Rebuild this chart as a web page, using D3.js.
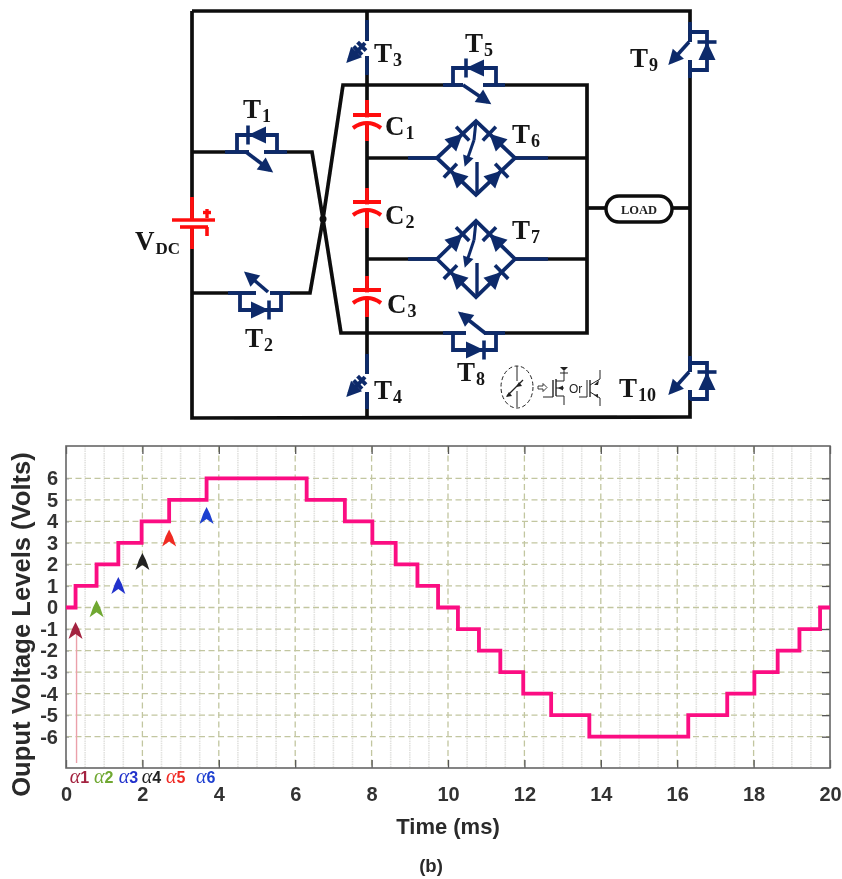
<!DOCTYPE html>
<html><head><meta charset="utf-8">
<style>html,body{margin:0;padding:0;background:#fff}svg{display:block}</style>
<script src="https://cdn.jsdelivr.net/npm/d3@7/dist/d3.min.js"></script></head>
<body><svg id="c" width="842" height="879"></svg>
<script>
// ---- chart data ----
const stepTimes  = [0,0.25,0.8,1.37,1.98,2.7,3.68,6.3,7.3,8.02,8.63,9.2,9.74,10.26,10.81,11.37,11.97,12.7,13.7,16.29,17.31,18.02,18.63,19.2,19.74,20];
const stepLevels = [0,1,2,3,4,5,6,5,4,3,2,1,0,-1,-2,-3,-4,-5,-6,-5,-4,-3,-2,-1,0,0];
const xTicks = [0,2,4,6,8,10,12,14,16,18,20];
const yTicks = [6,5,4,3,2,1,0,-1,-2,-3,-4,-5,-6];
const minorTimes = d3.range(0.5,20,0.5).filter(t=>t%2!==0);
const alphaNames = ["1","2","3","4","5","6"];
const alphaTimes = [0.25,0.8,1.37,2,2.7,3.68];
const alphaTipLevels = [-0.67,0.34,1.42,2.53,3.62,4.67];
const alphaLabelTimes = [0.1,0.73,1.38,1.98,2.62,3.4];
const alphaColors = ["#a3243f","#6fa831","#2233cc","#222222","#f02a24","#1f3fd0"];

const svg = d3.select("#c");
const defs = svg.append("defs");
defs.append("filter").attr("id","soft").attr("x","-2%").attr("y","-2%").attr("width","104%").attr("height","104%")
  .append("feGaussianBlur").attr("stdDeviation",0.5);
const root = svg.append("g").attr("filter","url(#soft)");

// ---- chart ----
const x = d3.scaleLinear().domain([0,20]).range([66,830]);
const y = d3.scaleLinear().domain([-6,6]).range([736.7,478.3]);
const top_=446, bot=768;
const ch = root.append("g");
const gridMinor = "#e2e2df", gridMajor="#c2c6a0";
ch.selectAll(".mn").data(minorTimes).join("line").attr("x1",x).attr("x2",x).attr("y1",top_).attr("y2",bot)
  .attr("stroke",gridMinor).attr("stroke-width",1.6).attr("stroke-dasharray","1.5 0.8");
ch.selectAll(".mj").data(xTicks.slice(1,-1)).join("line").attr("x1",x).attr("x2",x).attr("y1",top_).attr("y2",bot)
  .attr("stroke",gridMajor).attr("stroke-width",1.3).attr("stroke-dasharray","6 3.5");
ch.selectAll(".hz").data(yTicks).join("line").attr("x1",66).attr("x2",830).attr("y1",y).attr("y2",y)
  .attr("stroke",gridMajor).attr("stroke-width",1.3).attr("stroke-dasharray","6 3.5");

function styleAxis(g,col="#555"){ g.select(".domain").remove(); g.selectAll("line").attr("stroke",col).attr("stroke-width",1.3);
  g.selectAll("text").attr("font-family","'Liberation Sans'").attr("font-weight","bold").attr("font-size",20).attr("fill","#333"); }
ch.append("g").attr("transform",`translate(0,${bot})`)
  .call(d3.axisBottom(x).tickValues(xTicks).tickFormat(String).tickSize(-8).tickPadding(18.5)).call(styleAxis);
ch.append("g").attr("transform",`translate(0,${top_})`)
  .call(d3.axisTop(x).tickValues(xTicks).tickFormat("").tickSize(-8)).call(styleAxis);
ch.append("g").attr("transform","translate(66,0)")
  .call(d3.axisLeft(y).tickValues(yTicks).tickFormat(String).tickSize(-3).tickPadding(8)).call(g=>styleAxis(g,"#aaa"));
ch.append("g").attr("transform","translate(830,0)")
  .call(d3.axisRight(y).tickValues(yTicks).tickFormat("").tickSize(-8)).call(styleAxis);
ch.append("rect").attr("x",66).attr("y",top_).attr("width",764).attr("height",bot-top_).attr("fill","none").attr("stroke","#666").attr("stroke-width",1.6);

const stepLine = d3.line().x((d,i)=>x(stepTimes[i])).y(d=>y(d)).curve(d3.curveStepAfter);
ch.append("path").attr("d",stepLine(stepLevels)).attr("fill","none").attr("stroke","#fb0a82").attr("stroke-width",3.8);

// alpha chevrons
const chevron = "M0,0 L3.5,7 L7,17 L0,12 L-7,17 L-3.5,7 Z";
ch.append("line").attr("x1",x(alphaTimes[0])+1).attr("x2",x(alphaTimes[0])+1).attr("y1",y(alphaTipLevels[0])+12).attr("y2",763)
  .attr("stroke","#eba0aa").attr("stroke-width",1.4);
alphaNames.forEach((n,i)=>{
  ch.append("path").attr("d",chevron).attr("transform",`translate(${x(alphaTimes[i])},${y(alphaTipLevels[i])})`).attr("fill",alphaColors[i]);
  const t = ch.append("text").attr("x",x(alphaLabelTimes[i])).attr("y",783).attr("fill",alphaColors[i]).attr("font-size",16);
  t.append("tspan").attr("font-family","'Liberation Serif'").attr("font-style","italic").attr("font-size",20).text("α");
  t.append("tspan").attr("font-family","'Liberation Sans'").attr("font-weight","bold").text(n);
});

const sans=(s,xx,yy,fs,col)=>root.append("text").attr("x",xx).attr("y",yy).attr("text-anchor","middle").attr("font-family","'Liberation Sans'").attr("font-weight","bold").attr("font-size",fs).attr("fill",col||"#2a2a2a").text(s);
sans("Time (ms)",448,834,22);
sans("(b)",431,872,18.5);
root.append("text").attr("transform","translate(30,624.5) rotate(-90)").attr("text-anchor","middle").attr("font-family","'Liberation Sans'")
  .attr("font-weight","bold").attr("font-size",25.6).attr("fill","#2a2a2a").text("Ouput Voltage Levels (Volts)");

// ---- circuit schematic ----
const NAVY="#0b2a6b", RED="#ff1010", BLK="#0a0a0a";
const cg = root.append("g").attr("fill","none").attr("stroke-linecap","butt").attr("stroke-linejoin","miter");
const path = d3.line();
const wire=(pts,col=BLK,w=3.7)=>cg.append("path").attr("d",path(pts)).attr("stroke",col).attr("stroke-width",w).attr("fill","none");
wire([[192,11],[690,11],[690,417],[192,418],[192,11]]);
wire([[367,11],[367,418]]);
wire([[192,152],[312,152],[323,219],[341,333],[587,333],[587,85],[343,85],[323,219],[310,293],[192,293]]);
wire([[367,158],[437,158]]); wire([[515,158],[587,158]]);
wire([[367,259],[437,259]]); wire([[515,259],[587,259]]);
wire([[587,208],[606,208]]); wire([[672,208],[690,208]]);
cg.append("circle").attr("cx",323).attr("cy",219).attr("r",3.5).attr("fill",BLK);

function eraseV(xx,a,b){cg.append("line").attr("x1",xx).attr("x2",xx).attr("y1",a).attr("y2",b).attr("stroke","#fff").attr("stroke-width",6);}
function eraseH(yy,a,b){cg.append("line").attr("y1",yy).attr("y2",yy).attr("x1",a).attr("x2",b).attr("stroke","#fff").attr("stroke-width",6);}
function diode(cx,cy,deg,len=18,wid=17,col=NAVY){
  const g=cg.append("g").attr("transform",`translate(${cx},${cy}) rotate(${deg})`);
  g.append("path").attr("d",`M${-len/2},${-wid/2} L${len/2},0 L${-len/2},${wid/2} Z`).attr("fill",col);
  g.append("line").attr("x1",len/2).attr("x2",len/2).attr("y1",-wid/2-1).attr("y2",wid/2+1).attr("stroke",col).attr("stroke-width",3.6);
}
function arrowBlade(x1,y1,x2,y2,w=3.6,size=15){
  wire([[x1,y1],[x2,y2]],NAVY,w);
  const a=Math.atan2(y2-y1,x2-x1)*180/Math.PI;
  cg.append("path").attr("transform",`translate(${x2},${y2}) rotate(${a})`).attr("d",`M${-size+4},${-size/2} L4,0 L${-size+4},${size/2} Z`).attr("fill",NAVY);
}
function hSwitch(yy,xa,xb,bx1,bx2,gapA,gapB,dir,deg,dcx,blade){
  eraseH(yy,gapA,gapB);
  wire([[xa,yy],[gapA,yy]],NAVY); wire([[gapB,yy],[xb,yy]],NAVY);
  wire([[bx1,yy],[bx1,yy+dir*17],[bx2,yy+dir*17],[bx2,yy]],NAVY,3.8);
  diode(dcx,yy+dir*17,deg);
  arrowBlade(...blade);
}
hSwitch(152,225,287,237,277,249,264,-1,180,257,[246,152,270,170]);
hSwitch(293,228,290,240,281,256,270,1,0,260,[268,292,247,274]);
hSwitch(85,443,505,453,496,463,483,-1,180,475,[463,85,488,102]);
hSwitch(333,443,505,453,496,466,484,1,0,475,[485,333,461,314]);

function vOpto(xx,a,b,c,d,ey,ex,by,bx){
  eraseV(xx,b,c);
  wire([[xx,a],[xx,b]],NAVY); wire([[xx,c],[xx,d]],NAVY);
  arrowBlade(bx,by,ex,ey,4,15);
  [[0.2],[0.45]].forEach(([t])=>{
    const px=bx+(ex-bx)*t, py=by+(ey-by)*t, l=6;
    wire([[px-l*0.7,py-l*0.7],[px+l*0.7,py+l*0.7]],NAVY,4);
  });
}
vOpto(367,20,41,56,75,60,349,43,365);
vOpto(367,354,374,392,409,394,349,377,365);

function vRight(a,b,g1,g2,box1,box2,dy,bl){
  eraseV(690,g1,g2);
  wire([[690,a],[690,g1]],NAVY); wire([[690,g2],[690,b]],NAVY);
  wire([[690,box1],[707,box1],[707,box2],[690,box2]],NAVY,3.8);
  diode(707,dy,-90);
  arrowBlade(...bl);
}
vRight(22,78,42,60,32,70,51,[689,42,671,62]);
vRight(356,400,372,390,363,399,381,[689,372,671,392]);

function cap(xx,a,b,p,q){
  wire([[xx,a],[xx,b]],RED,3.8);
  cg.append("line").attr("x1",xx-14).attr("x2",xx+14).attr("y1",p).attr("y2",p).attr("stroke",RED).attr("stroke-width",4);
  eraseV(xx,p+2.4,q-3.2);
  cg.append("path").attr("d",`M${xx-14},${q+3} Q${xx},${q-7} ${xx+14},${q+3}`).attr("stroke",RED).attr("stroke-width",4);
}
cap(367,100,141,115,125);
cap(367,188,228,202,212);
cap(367,276,317,290,300);
eraseV(192,221,226);
wire([[192,197],[192,220]],RED,3.8); wire([[192,227],[192,249]],RED,3.8);
wire([[172,220],[215,220]],RED,3.6);
wire([[180,227],[208,227]],RED,3.6);
wire([[207,227],[207,236]],RED,3.6);
wire([[207,209],[207,218]],RED,3.4);
wire([[203,212.5],[211,212.5]],RED,3.4);

function bridge(cy,ht,hb){
  const cx=476, L=437, R=515, top=cy-ht, b=cy+hb;
  wire([[408,cy],[L,cy]],NAVY); wire([[R,cy],[548,cy]],NAVY);
  wire([[L,cy],[cx,top],[R,cy],[cx,b],[L,cy]],NAVY,3.8);
  const ang=p=>Math.atan2(p[3]-p[1],p[2]-p[0])*180/Math.PI;
  [[L,cy,cx,top],[R,cy,cx,top],[cx,b,L,cy],[cx,b,R,cy]].forEach(p=>{
    const mx=(p[0]+p[2])/2,my=(p[1]+p[3])/2; diode(mx,my,ang(p),17,17);
  });
  wire([[cx,top],[cx-2,top+19]],NAVY,3);
  arrowBlade(cx-2,top+19,cx-10,cy+5,3,11);
  wire([[cx+1,cy+4],[cx+1,b]],NAVY,3.4);
}
bridge(158,37,37);
bridge(259,38,38);

cg.append("rect").attr("x",606).attr("y",196).attr("width",66).attr("height",26).attr("rx",13).attr("fill","#fff").attr("stroke",BLK).attr("stroke-width",3.4);

const th=(pts,w=1)=>wire(pts,"#222",w);
cg.append("ellipse").attr("cx",517).attr("cy",387).attr("rx",16).attr("ry",21).attr("stroke","#222").attr("stroke-width",1).attr("stroke-dasharray","4 2.5");
th([[517,366],[517,381]]); th([[517,391],[517,407]]);
th([[507,396],[523,380]],1.2);
[[520,383],[510,393]].forEach(p=>cg.append("path").attr("d",`M${p[0]-4},${p[1]+4} l6,-1 l-3,-4 Z`).attr("fill","#222"));
cg.append("path").attr("d","M538,386 h5 v-2.5 l4,4 l-4,4 v-2.5 h-5 Z").attr("stroke","#222").attr("stroke-width",0.9);
th([[543,397],[553,397]]); th([[553,380],[553,397]],1.4); th([[556,379],[556,396]],1.4);
th([[556,381],[564,381],[564,371]]); th([[556,388],[564,388]]); th([[556,396],[564,396],[564,405]]);
cg.append("path").attr("d","M564,371 l-4,-4 h8 Z M558,388 l5,-2.5 v5 Z").attr("fill","#222");
cg.append("path").attr("d","M560,373 h8").attr("stroke","#222");
th([[579,397],[587,397],[587,380]]); th([[590,380],[590,397]],1.4);
th([[590,385],[600,379],[600,370]]); th([[590,392],[600,398],[600,406]]);
cg.append("path").attr("d","M594,385 l5,-5 l-1,5 Z M598,398 l-4,-3 l4,-1 Z").attr("fill","#222");
root.append("text").attr("x",569).attr("y",393).attr("font-family","'Liberation Sans'").attr("font-size",12).attr("fill","#222").text("Or");

const txt=root.append("g").attr("font-family","'Liberation Serif'").attr("font-weight","bold").attr("fill","#151515");
function label(s,sub,xx,yy,fs=27,ss=18,dy=4){
  const t=txt.append("text").attr("x",xx).attr("y",yy).attr("font-size",fs);
  t.append("tspan").text(s);
  t.append("tspan").attr("font-size",ss).attr("dy",dy).attr("dx",1).text(sub);
}
label("T","1",243,118);
label("T","2",245,347);
label("T","3",374,62);
label("T","4",374,399);
label("T","5",465,52);
label("T","6",512,143);
label("T","7",512,239);
label("T","8",457,381);
label("T","9",630,67);
label("T","10",619,397);
label("C","1",385,135);
label("C","2",385,224);
label("C","3",387,313);
label("V","DC",135,250,27,17,4);
txt.append("text").attr("x",639).attr("y",214).attr("text-anchor","middle").attr("font-size",12.5).attr("fill","#222").text("LOAD");
</script></body></html>
